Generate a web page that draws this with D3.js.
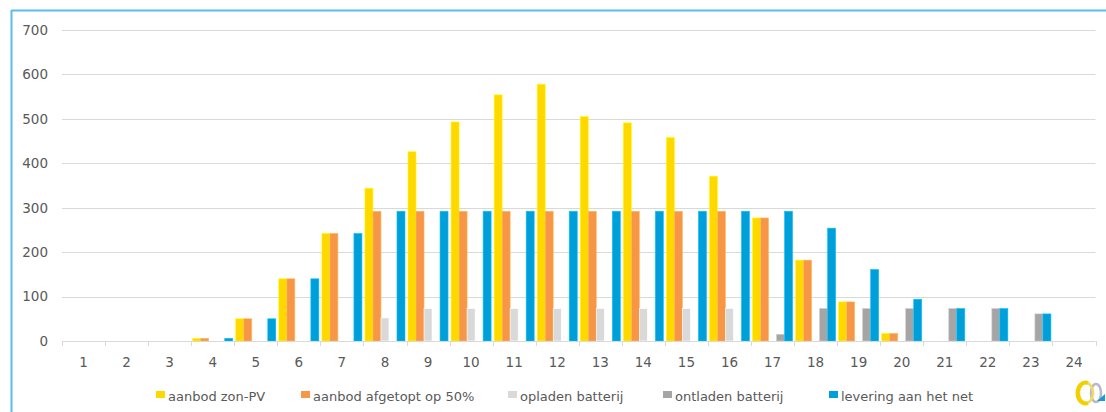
<!DOCTYPE html>
<html>
<head>
<meta charset="utf-8">
<script src="https://cdn.jsdelivr.net/npm/d3@7"></script>
<style>
  html, body { margin: 0; padding: 0; background: #fff; }
  svg { display: block; }
  text { font-family: "DejaVu Sans", Verdana, sans-serif; fill: #595959; }
</style>
</head>
<body>
<svg id="chart" width="1106" height="412"></svg>
<script>
// Hours of the day
const hours = d3.range(1, 25).map(String);

// Hourly values per series (0 where nothing is drawn)
const zonPV      = [0, 0, 0, 6, 50, 140, 242, 344, 426, 493, 554, 578, 505, 491, 458, 371, 277, 182, 88, 17, 0, 0, 0, 0];
const afgetopt   = [0, 0, 0, 6, 50, 140, 242, 292, 292, 292, 292, 292, 292, 292, 292, 292, 277, 182, 88, 17, 0, 0, 0, 0];
const opladen    = [0, 0, 0, 0, 0, 0, 0, 52, 73, 73, 73, 73, 73, 73, 73, 73, 0, 0, 0, 0, 0, 0, 0, 0];
const ontladen   = [0, 0, 0, 0, 0, 0, 0, 0, 0, 0, 0, 0, 0, 0, 0, 0, 15, 73, 73, 73, 73, 73, 61, 0];
const levering   = [0, 0, 0, 6, 50, 140, 242, 292, 292, 292, 292, 292, 292, 292, 292, 292, 292, 254, 161, 94, 73, 73, 61, 0];

const seriesNames = ["aanbod zon-PV", "aanbod afgetopt op 50%", "opladen batterij", "ontladen batterij", "levering aan het net"];
const seriesValues = [zonPV, afgetopt, opladen, ontladen, levering];
const seriesColors = ["#FFD800", "#F79646", "#D9D9D9", "#A5A5A5", "#009FDA"];
const yTicks = [0, 100, 200, 300, 400, 500, 600, 700];

const svg = d3.select("#chart");
const W = 1106, H = 412;
const plot = { left: 62, right: 1095.5, top: 30, bottom: 341 };

// Frame (top and left edges visible)
svg.append("line").attr("x1", 11.5).attr("x2", W).attr("y1", 10.5).attr("y2", 10.5)
  .attr("stroke", "#5BBDE8").attr("stroke-width", 2);
svg.append("line").attr("x1", 11.5).attr("x2", 11.5).attr("y1", 10).attr("y2", H)
  .attr("stroke", "#5BBDE8").attr("stroke-width", 2);

const x = d3.scaleBand().domain(hours).range([plot.left, plot.right]).paddingInner(0.07).paddingOuter(0.035);
const xOuter = d3.scaleBand().domain(hours).range([plot.left, plot.right]);
const y = d3.scaleLinear().domain([0, 700]).range([plot.bottom, plot.top]);
const xs = d3.scaleBand().domain(d3.range(seriesNames.length)).range([0, x.bandwidth()]);

// Gridlines
svg.append("g").selectAll("line").data(yTicks.slice(1)).join("line")
  .attr("x1", plot.left).attr("x2", plot.right)
  .attr("y1", d => Math.round(y(d)) + 0.5).attr("y2", d => Math.round(y(d)) + 0.5)
  .attr("stroke", "#D9D9D9").attr("stroke-width", 1);

// Y axis labels
const yAxis = d3.axisLeft(y).tickValues(yTicks).tickSize(0).tickPadding(14);
const gy = svg.append("g").attr("transform", `translate(${plot.left},0)`).call(yAxis);
gy.select(".domain").remove();
gy.selectAll("text").attr("font-size", 13.5).attr("fill", "#595959").attr("font-family", "DejaVu Sans, sans-serif");

// Bars
seriesValues.forEach((vals, si) => {
  svg.append("g").selectAll("rect").data(hours.map((h, i) => ({ h, v: vals[i] })).filter(d => d.v > 0)).join("rect")
    .attr("x", d => x(d.h) + xs(si))
    .attr("width", xs.bandwidth())
    .attr("y", d => y(d.v))
    .attr("height", d => y(0) - y(d.v))
    .attr("fill", seriesColors[si])
    .attr("stroke", d3.color(seriesColors[si]).brighter(0.6))
    .attr("stroke-width", 0.6);
});

// X axis: baseline, boundary ticks and labels
svg.append("line").attr("x1", plot.left).attr("x2", plot.right)
  .attr("y1", plot.bottom + 0.5).attr("y2", plot.bottom + 0.5)
  .attr("stroke", "#D9D9D9").attr("stroke-width", 1);
const boundaries = hours.map(h => xOuter(h)).concat([plot.right]);
svg.append("g").selectAll("line").data(boundaries).join("line")
  .attr("x1", d => Math.round(d) + 0.5).attr("x2", d => Math.round(d) + 0.5)
  .attr("y1", plot.bottom).attr("y2", plot.bottom + 5)
  .attr("stroke", "#D9D9D9");
svg.append("g").selectAll("text").data(hours).join("text")
  .attr("x", d => xOuter(d) + xOuter.bandwidth() / 2)
  .attr("y", 367)
  .attr("text-anchor", "middle")
  .attr("font-size", 13.5)
  .text(d => d);

// Legend
const legendX = [156, 301, 508, 663, 829];
const lg = svg.append("g");
seriesNames.forEach((name, i) => {
  lg.append("rect").attr("x", legendX[i]).attr("y", 391).attr("width", 9).attr("height", 7).attr("fill", seriesColors[i]);
  lg.append("text").attr("x", legendX[i] + 12).attr("y", 401).attr("font-size", 13).text(name);
});

// Small logo mark: two yellow rings, a grey ring and a blue triangle
const logo = svg.append("g").attr("transform", "translate(1088,393)");
logo.append("ellipse").attr("cx", 8).attr("cy", 0).attr("rx", 5).attr("ry", 9)
  .attr("fill", "none").attr("stroke", "#B9B9C6").attr("stroke-width", 2.5);
logo.append("ellipse").attr("cx", -2).attr("cy", 0).attr("rx", 7).attr("ry", 10)
  .attr("fill", "none").attr("stroke", "#F0DC5A").attr("stroke-width", 2.5);
logo.append("path").attr("d", "M 0 -10 A 8 10.5 0 1 0 0 10")
  .attr("fill", "none").attr("stroke", "#F2D000").attr("stroke-width", 4);
logo.append("path").attr("d", "M 9 8 L 17 1 L 17 8 Z").attr("fill", "#1C98D4");
</script>
</body>
</html>
